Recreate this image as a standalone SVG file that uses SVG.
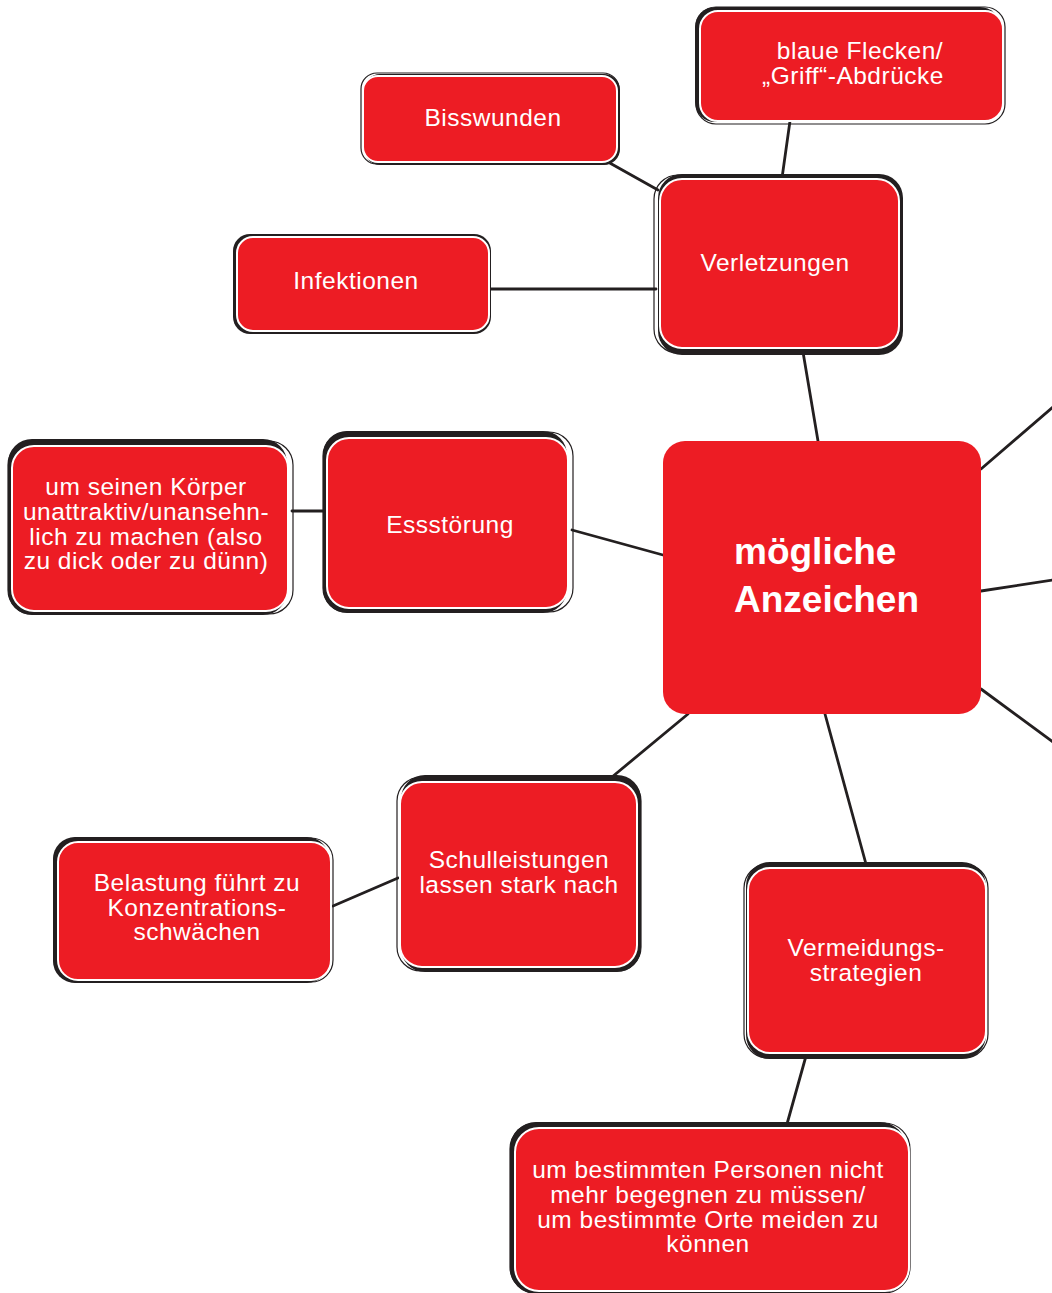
<svg xmlns="http://www.w3.org/2000/svg" width="1052" height="1293" viewBox="0 0 1052 1293">
<style>
.ln{stroke:#231f20;stroke-width:2.8;fill:none;stroke-linecap:round}
.sh{fill:#231f20}
.ol{fill:none;stroke:#231f20;stroke-width:1.2}
.bx{fill:#ed1c24;stroke:#fff;stroke-width:2}
.t{font-family:"Liberation Sans",Arial,Helvetica,sans-serif;font-size:24.5px;fill:#fff;text-anchor:middle;letter-spacing:0.5px}
.c{font-family:"Liberation Sans",Arial,Helvetica,sans-serif;font-size:37px;font-weight:bold;fill:#fff}
</style>
<rect width="1052" height="1293" fill="#fff"/>
<g id="connectors">
<line class="ln" x1="790" y1="121" x2="782" y2="178"/>
<line class="ln" x1="608" y1="162" x2="658" y2="190"/>
<line class="ln" x1="490" y1="289" x2="656" y2="289"/>
<line class="ln" x1="803" y1="352" x2="818" y2="441"/>
<line class="ln" x1="981" y1="469" x2="1053" y2="407"/>
<line class="ln" x1="981" y1="591" x2="1053" y2="580"/>
<line class="ln" x1="981" y1="689" x2="1053" y2="742"/>
<line class="ln" x1="663" y1="555" x2="572" y2="530"/>
<line class="ln" x1="323" y1="511" x2="292" y2="511"/>
<line class="ln" x1="688" y1="714" x2="612" y2="777"/>
<line class="ln" x1="398" y1="878" x2="333" y2="906"/>
<line class="ln" x1="825" y1="714" x2="866" y2="864"/>
<line class="ln" x1="806" y1="1056" x2="787" y2="1124"/>
</g>
<g id="node-blaue">
<rect class="ol" x="696" y="7" width="309" height="117" rx="20"/>
<rect class="sh" x="695" y="7" width="305" height="115" rx="20"/>
<rect class="bx" x="700" y="11" width="303" height="110" rx="18"/>
<text class="t" x="860" y="59">blaue Flecken/</text>
<text class="t" x="853" y="84">„Griff“-Abdrücke</text>
</g>
<g id="node-verletzungen">
<rect class="ol" x="654" y="175" width="247" height="178" rx="24"/>
<rect class="sh" x="658" y="174" width="245" height="181" rx="24"/>
<rect class="bx" x="660" y="179" width="239" height="169" rx="22"/>
<text class="t" x="775" y="271">Verletzungen</text>
</g>
<g id="node-bisswunden">
<rect class="ol" x="361" y="73" width="258" height="91" rx="16"/>
<rect class="sh" x="364" y="74" width="256" height="91" rx="16"/>
<rect class="bx" x="363" y="76" width="254" height="86" rx="15"/>
<text class="t" x="493" y="126">Bisswunden</text>
</g>
<g id="node-infektionen">
<rect class="sh" x="233" y="234" width="258" height="100" rx="17"/>
<rect class="bx" x="237" y="237" width="252" height="94" rx="16"/>
<text class="t" x="356" y="289">Infektionen</text>
</g>
<g id="node-essstoerung">
<rect class="ol" x="323" y="432" width="250" height="180" rx="24"/>
<rect class="sh" x="323" y="431" width="244" height="182" rx="24"/>
<rect class="bx" x="327" y="438" width="241" height="170" rx="22"/>
<text class="t" x="450" y="533">Essstörung</text>
</g>
<g id="node-koerper">
<rect class="ol" x="8" y="441" width="285" height="173" rx="24"/>
<rect class="sh" x="8" y="439" width="279" height="176" rx="24"/>
<rect class="bx" x="12" y="446" width="276" height="165" rx="22"/>
<text class="t" x="146" y="495">um seinen Körper</text>
<text class="t" x="146" y="520">unattraktiv/unansehn-</text>
<text class="t" x="146" y="545">lich zu machen (also</text>
<text class="t" x="146" y="569">zu dick oder zu dünn)</text>
</g>
<g id="node-zentrum">
<rect x="663" y="441" width="318" height="273" rx="22" fill="#ed1c24"/>
<text class="c" x="734" y="564">mögliche</text>
<text class="c" x="734" y="612">Anzeichen</text>
</g>
<g id="node-schule">
<rect class="ol" x="397" y="777" width="244" height="194" rx="24"/>
<rect class="sh" x="401" y="775" width="240" height="197" rx="24"/>
<rect class="bx" x="400" y="782" width="237" height="185" rx="22"/>
<text class="t" x="519" y="868">Schulleistungen</text>
<text class="t" x="519" y="893">lassen stark nach</text>
</g>
<g id="node-belastung">
<rect class="ol" x="54" y="838" width="279" height="144" rx="22"/>
<rect class="sh" x="53" y="837" width="276" height="146" rx="22"/>
<rect class="bx" x="58" y="842" width="273" height="138" rx="20"/>
<text class="t" x="197" y="891">Belastung führt zu</text>
<text class="t" x="197" y="916">Konzentrations-</text>
<text class="t" x="197" y="940">schwächen</text>
</g>
<g id="node-vermeidung">
<rect class="ol" x="744" y="864" width="244" height="194" rx="24"/>
<rect class="sh" x="746" y="862" width="240" height="197" rx="24"/>
<rect class="bx" x="748" y="868" width="238" height="185" rx="22"/>
<text class="t" x="866" y="956">Vermeidungs-</text>
<text class="t" x="866" y="981">strategien</text>
</g>
<g id="node-personen">
<rect class="ol" x="510" y="1123" width="400" height="170" rx="26"/>
<rect class="sh" x="510" y="1122" width="396" height="172" rx="26"/>
<rect class="bx" x="515" y="1128" width="394" height="163" rx="24"/>
<text class="t" x="708" y="1178">um bestimmten Personen nicht</text>
<text class="t" x="708" y="1203">mehr begegnen zu müssen/</text>
<text class="t" x="708" y="1228">um bestimmte Orte meiden zu</text>
<text class="t" x="708" y="1252">können</text>
</g>
</svg>
